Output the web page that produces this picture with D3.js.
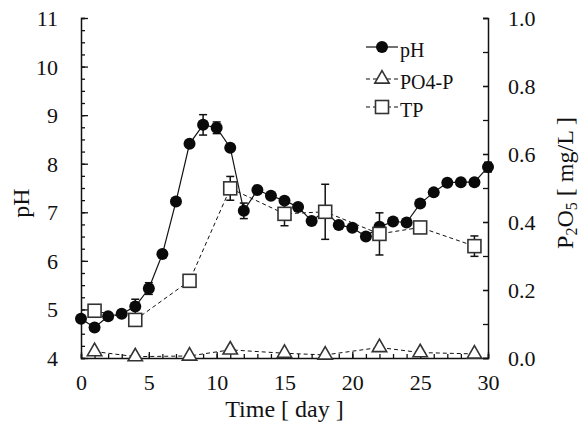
<!DOCTYPE html>
<html>
<head>
<meta charset="utf-8">
<script src="https://cdn.jsdelivr.net/npm/d3@7"></script>
<style>
  body { margin: 0; background: #fff; }
  svg text { font-family: 'Liberation Serif', Tinos, 'Times New Roman', Times, serif !important; fill: #111; }
</style>
</head>
<body>
<div id="chart"></div>
<script>
// pH, measured every day
var phDays = [0,1,2,3,4,5,6,7,8,9,10,11,12,13,14,15,16,17,18,19,20,21,22,23,24,25,26,27,28,29,30];
var phVals = [4.81,4.63,4.86,4.91,5.06,5.43,6.14,7.22,8.41,8.80,8.74,8.33,7.03,7.46,7.34,7.24,7.11,6.82,7.03,6.74,6.68,6.50,6.70,6.81,6.79,7.18,7.41,7.61,7.62,7.62,7.93];
var phErr  = [0,0,0,0,0.15,0.12,0,0,0,0.21,0.12,0,0.16,0,0,0,0,0,0,0,0,0,0,0,0,0,0,0,0,0,0.1];

// phosphorus, right axis (mg/L)
var pDays = [1,4,8,11,15,18,22,25,29];
var tpVals = [0.139,0.112,0.227,0.499,0.424,0.430,0.365,0.384,0.329];
var tpErr  = [0,0,0,0.035,0.035,0.081,0.062,0,0.03];
var po4Vals = [0.019,0.004,0.006,0.024,0.014,0.009,0.031,0.016,0.012];

var xTicks = [0,5,10,15,20,25,30];
var phTicks = [4,5,6,7,8,9,10,11];
var rTicks = [0,0.2,0.4,0.6,0.8,1.0];

var W = 579, H = 435;
var L = 81, R = 488, T = 18, B = 358;

var svg = d3.select("#chart").append("svg")
  .attr("width", W).attr("height", H)
  .attr("font-family", "Liberation Serif");

var x = d3.scaleLinear().domain([0,30]).range([L,R]);
var yPH = d3.scaleLinear().domain([4,11]).range([B,T]);
var yP = d3.scaleLinear().domain([0,1]).range([B,T]);

// axes
function styleAxis(g) {
  g.attr("font-family", "Liberation Serif");
  g.select(".domain").attr("stroke", "#111").attr("stroke-width", 1.5);
  g.selectAll(".tick line").attr("stroke", "#111").attr("stroke-width", 1.3);
  g.selectAll("text").style("font-size", "22px").attr("fill", "#111");
}

// left minor + major
svg.append("g").attr("transform", "translate(" + L + ",0)")
  .call(d3.axisLeft(yPH).tickValues(d3.range(4, 11.01, 0.25)).tickSize(-4).tickFormat(""))
  .call(styleAxis);
svg.append("g").attr("transform", "translate(" + L + ",0)")
  .call(d3.axisLeft(yPH).tickValues(phTicks).tickSize(-7).tickPadding(23).tickFormat(d3.format("d")))
  .call(styleAxis)
  .call(function(g){ g.select(".domain").remove(); g.selectAll("text").attr("dy","0.34em"); });

// right
svg.append("g").attr("transform", "translate(" + R + ",0)")
  .call(d3.axisRight(yP).tickValues(d3.range(0, 1.001, 0.1)).tickSize(-5).tickFormat(""))
  .call(styleAxis);
svg.append("g").attr("transform", "translate(" + R + ",0)")
  .call(d3.axisRight(yP).tickValues(rTicks).tickSize(-5).tickPadding(20).tickFormat(d3.format(".1f")))
  .call(styleAxis)
  .call(function(g){ g.select(".domain").remove(); g.selectAll("text").attr("dy","0.34em"); });

// bottom
svg.append("g").attr("transform", "translate(0," + B + ")")
  .call(d3.axisBottom(x).tickValues(d3.range(0, 31, 1)).tickSize(-4).tickFormat(""))
  .call(styleAxis);
svg.append("g").attr("transform", "translate(0," + B + ")")
  .call(d3.axisBottom(x).tickValues(xTicks).tickSize(-6).tickPadding(16).tickFormat(d3.format("d")))
  .call(styleAxis)
  .call(function(g){ g.select(".domain").remove(); });

// titles
svg.append("text").attr("x", (L + R) / 2).attr("y", 417)
  .attr("text-anchor", "middle").style("font-size", "24px").text("Time [ day ]");
svg.append("text").attr("transform", "translate(29,203) rotate(-90)")
  .attr("text-anchor", "middle").style("font-size", "24px").text("pH");
var rt = svg.append("text").attr("transform", "translate(573,183) rotate(-90)")
  .attr("text-anchor", "middle").style("font-size", "24px");
rt.append("tspan").text("P");
rt.append("tspan").attr("dy", 4).style("font-size", "16px").text("2");
rt.append("tspan").attr("dy", -4).text("O");
rt.append("tspan").attr("dy", 4).style("font-size", "16px").text("5");
rt.append("tspan").attr("dy", -4).text(" [ mg/L ]");

// pH series
var phData = phDays.map(function(d, i){ return {x: d, y: phVals[i], e: phErr[i]}; });
var tpData = pDays.map(function(d, i){ return {x: d, y: tpVals[i], e: tpErr[i]}; });
var poData = pDays.map(function(d, i){ return {x: d, y: po4Vals[i]}; });

function errBars(data, ys) {
  var g = svg.append("g").attr("stroke", "#111").attr("stroke-width", 1.5);
  data.filter(function(d){ return d.e > 0; }).forEach(function(d){
    var cx = x(d.x), y1 = ys(d.y - d.e), y2 = ys(d.y + d.e);
    g.append("line").attr("x1", cx).attr("x2", cx).attr("y1", y1).attr("y2", y2);
    g.append("line").attr("x1", cx - 4).attr("x2", cx + 4).attr("y1", y1).attr("y2", y1);
    g.append("line").attr("x1", cx - 4).attr("x2", cx + 4).attr("y1", y2).attr("y2", y2);
  });
}

svg.append("path").datum(phData)
  .attr("d", d3.line().x(function(d){ return x(d.x); }).y(function(d){ return yPH(d.y); }))
  .attr("fill", "none").attr("stroke", "#111").attr("stroke-width", 1.2);
errBars(phData, yPH);
svg.append("g").selectAll("circle").data(phData).enter().append("circle")
  .attr("cx", function(d){ return x(d.x); }).attr("cy", function(d){ return yPH(d.y); })
  .attr("r", 6).attr("fill", "#0a0a0a");

// TP
svg.append("path").datum(tpData)
  .attr("d", d3.line().x(function(d){ return x(d.x); }).y(function(d){ return yP(d.y); }))
  .attr("fill", "none").attr("stroke", "#111").attr("stroke-width", 1).attr("stroke-dasharray", "4,3");
errBars(tpData, yP);
svg.append("g").selectAll("rect").data(tpData).enter().append("rect")
  .attr("x", function(d){ return x(d.x) - 6.5; }).attr("y", function(d){ return yP(d.y) - 6.5; })
  .attr("width", 13).attr("height", 13)
  .attr("fill", "#fff").attr("stroke", "#333").attr("stroke-width", 1.6);

// PO4-P
svg.append("path").datum(poData)
  .attr("d", d3.line().x(function(d){ return x(d.x); }).y(function(d){ return yP(d.y); }))
  .attr("fill", "none").attr("stroke", "#111").attr("stroke-width", 1).attr("stroke-dasharray", "4,3");
var tri = d3.symbol().type(d3.symbolTriangle).size(90);
svg.append("g").selectAll("path").data(poData).enter().append("path")
  .attr("d", tri)
  .attr("transform", function(d){ return "translate(" + x(d.x) + "," + yP(d.y) + ")"; })
  .attr("fill", "#fff").attr("stroke", "#333").attr("stroke-width", 1.6);

// legend
var lg = svg.append("g");
var items = [
  {name: "pH", y: 47, dash: null, kind: "circle"},
  {name: "PO4-P", y: 79, dash: "4,3", kind: "tri"},
  {name: "TP", y: 107, dash: "4,3", kind: "rect"}
];
items.forEach(function(it){
  lg.append("line").attr("x1", 366).attr("x2", 398).attr("y1", it.y).attr("y2", it.y)
    .attr("stroke", "#111").attr("stroke-width", 1.2).attr("stroke-dasharray", it.dash);
  if (it.kind === "circle") {
    lg.append("circle").attr("cx", 382).attr("cy", it.y).attr("r", 6).attr("fill", "#0a0a0a");
  } else if (it.kind === "tri") {
    lg.append("path").attr("d", tri).attr("transform", "translate(382," + it.y + ")")
      .attr("fill", "#fff").attr("stroke", "#333").attr("stroke-width", 1.6);
  } else {
    lg.append("rect").attr("x", 375.5).attr("y", it.y - 6.5).attr("width", 13).attr("height", 13)
      .attr("fill", "#fff").attr("stroke", "#333").attr("stroke-width", 1.6);
  }
  lg.append("text").attr("x", 400).attr("y", it.y + 10).style("font-size", "20px").text(it.name);
});
</script>
</body>
</html>
